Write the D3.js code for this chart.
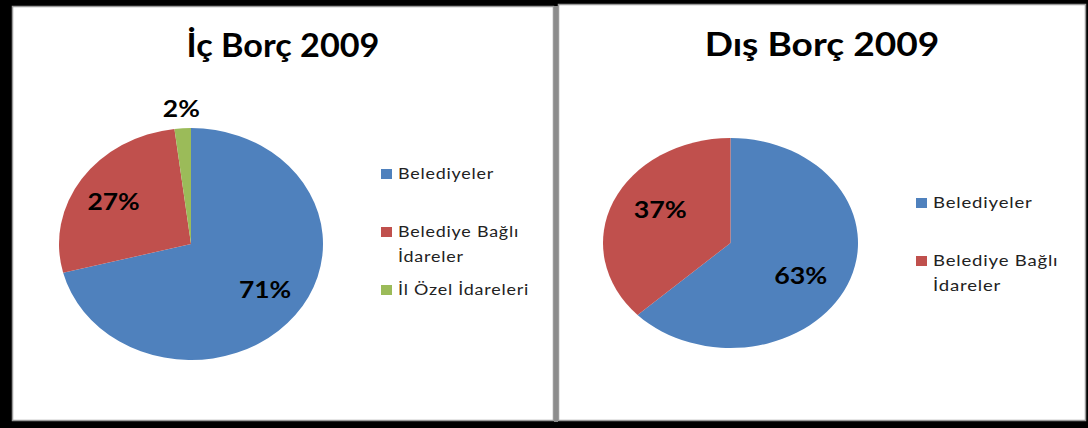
<!DOCTYPE html>
<html>
<head>
<meta charset="utf-8">
<script src="https://cdn.jsdelivr.net/npm/d3@7"></script>
<style>
  html, body { margin: 0; padding: 0; background: #000; }
  svg { display: block; }
  text { font-family: Lato, "Noto Sans", sans-serif; }
</style>
</head>
<body>
<svg id="chart" width="1088" height="428"></svg>
<script>
// Domestic debt 2009 (shares in %)
const icCategories = ["Belediyeler", "Belediye Bağlı İdareler", "İl Özel İdareleri"];
const icLegendLines = [["Belediyeler"], ["Belediye Bağlı", "İdareler"], ["İl Özel İdareleri"]];
const icValues = [71, 27, 2];

// Foreign debt 2009 (shares in %)
const disCategories = ["Belediyeler", "Belediye Bağlı İdareler"];
const disLegendLines = [["Belediyeler"], ["Belediye Bağlı", "İdareler"]];
const disValues = [63, 37];

const titles = ["İç Borç 2009", "Dış Borç 2009"];
const sliceColors = ["#4F81BD", "#C0504D", "#9BBB59"];

const svg = d3.select("#chart");

// panel frames
svg.append("rect").attr("x", 0).attr("y", 0).attr("width", 1088).attr("height", 428).attr("fill", "#000");
svg.append("rect").attr("x", 12.5).attr("y", 6.5).attr("width", 541).attr("height", 414)
  .attr("fill", "#fff").attr("stroke", "#9a9a9a").attr("stroke-width", 1.5);
svg.append("rect").attr("x", 558.5).attr("y", 4.5).attr("width", 527).attr("height", 416)
  .attr("fill", "#fff").attr("stroke", "#9a9a9a").attr("stroke-width", 1.5);
svg.append("rect").attr("x", 554).attr("y", 6).attr("width", 4).attr("height", 416).attr("fill", "#8c8c8c");

const panels = [
  { title: titles[0], cats: icCategories, lines: icLegendLines, values: icValues,
    titleX: 283, titleY: 57, titleScale: 1.07, textScale: 1.12, labelScale: 1.2,
    cx: 191, cy: 244, rx: 132, ry: 116, lfx: 0.71, lfy: 0.65,
    legendX: 381, legendY: 169 },
  { title: titles[1], cats: disCategories, lines: disLegendLines, values: disValues,
    titleX: 822, titleY: 56, titleScale: 1.16, textScale: 1.16, labelScale: 1.22,
    cx: 730.5, cy: 243, rx: 127.5, ry: 105, lfx: 0.6, lfy: 0.78,
    legendX: 916, legendY: 198 }
];

// text drawn inside a horizontally stretched group
function stretched(parent, x, y, sx) {
  return parent.append("g").attr("transform", `translate(${x},${y}) scale(${sx},1)`);
}

panels.forEach(p => {
  const g = svg.append("g");

  stretched(g, p.titleX, p.titleY, p.titleScale)
    .append("text")
    .attr("text-anchor", "middle")
    .attr("font-weight", 700).attr("font-size", 32)
    .attr("fill", "#000")
    .text(p.title);

  const color = d3.scaleOrdinal().domain(p.cats).range(sliceColors);
  const pie = d3.pie().sort(null).value(d => d.value);
  const arcs = pie(p.cats.map((c, i) => ({ cat: c, value: p.values[i] })));
  const arc = d3.arc().innerRadius(0).outerRadius(p.rx);
  const sy = p.ry / p.rx;

  g.append("g")
    .attr("transform", `translate(${p.cx},${p.cy}) scale(1,${sy})`)
    .selectAll("path")
    .data(arcs)
    .join("path")
    .attr("d", arc)
    .attr("fill", d => color(d.data.cat));

  // percentage labels: inside for large slices, just outside for tiny ones
  arcs.forEach(d => {
    const a = (d.startAngle + d.endAngle) / 2;
    const small = d.data.value < 5;
    const fx = small ? 1.17 : p.lfx;
    const fy = small ? 1.17 : p.lfy;
    const x = p.cx + Math.sin(a) * p.rx * fx;
    const y = p.cy - Math.cos(a) * p.ry * fy;
    stretched(g, x, y + 8, p.labelScale)
      .append("text")
      .attr("text-anchor", "middle")
      .attr("font-weight", 700).attr("font-size", 22)
      .attr("fill", "#000")
      .text(d.data.value + "%");
  });

  // legend
  const rowStep = 58;
  const lg = g.append("g").attr("transform", `translate(${p.legendX},${p.legendY})`);
  p.cats.forEach((c, i) => {
    const row = lg.append("g").attr("transform", `translate(0,${i * rowStep})`);
    row.append("rect").attr("width", 11).attr("height", 10).attr("fill", color(c));
    const t = stretched(row, 17, 10, p.textScale)
      .append("text")
      .attr("font-size", 16).attr("letter-spacing", 0.7).attr("fill", "#222");
    p.lines[i].forEach((ln, j) => {
      t.append("tspan").attr("x", 0).attr("dy", j === 0 ? 0 : 25).text(ln);
    });
  });
});
</script>
</body>
</html>
